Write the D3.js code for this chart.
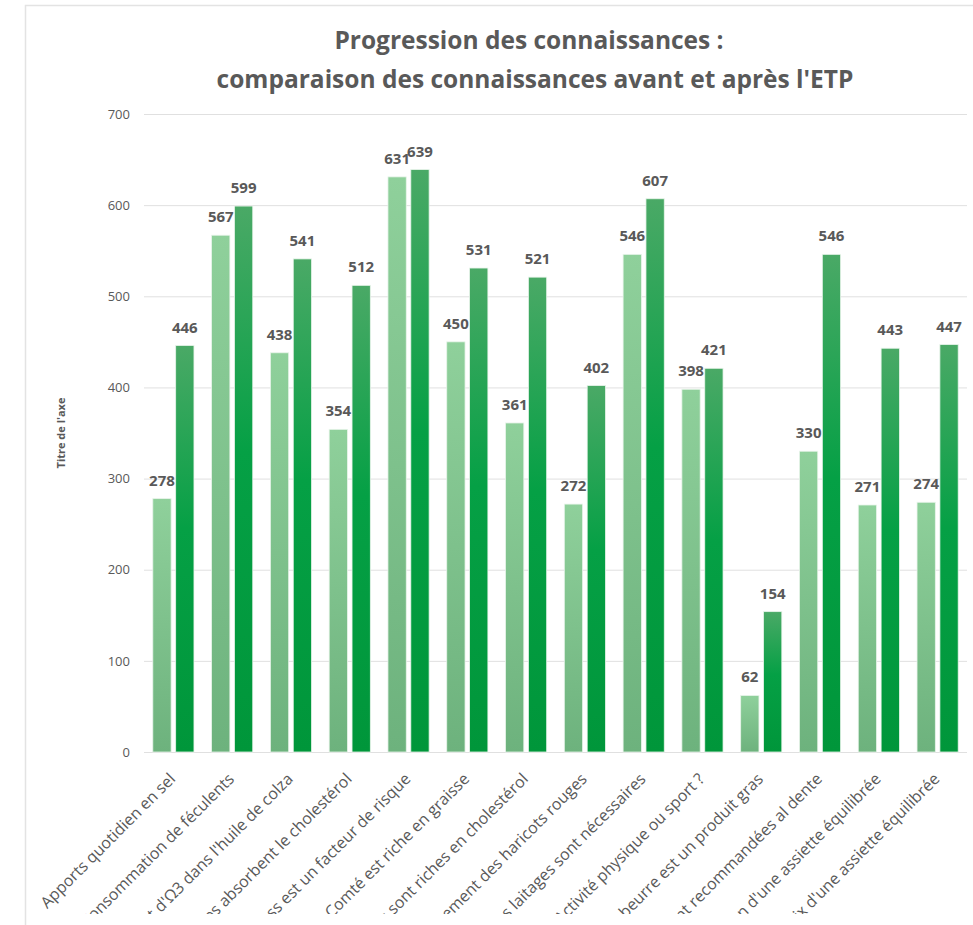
<!DOCTYPE html>
<html>
<head>
<meta charset="utf-8">
<script src="https://cdn.jsdelivr.net/npm/d3@7"></script>
<style>
  body { margin: 0; background: #fff; }
  text { font-family: "Open Sans", sans-serif; }
</style>
</head>
<body>
<script>
var categories = [
    "Apports quotidien en sel",
    "Consommation de féculents",
    "Apport d'Ω3 dans l'huile de colza",
    "Les fibres absorbent le cholestérol",
    "Le stress est un facteur de risque",
    "Le Comté est riche en graisse",
    "Les œufs sont riches en cholestérol",
    "Consommer régulièrement des haricots rouges",
    "Les laitages sont nécessaires",
    "Activité physique ou sport ?",
    "Le beurre est un produit gras",
    "Les pâtes sont recommandées al dente",
    "Composition d'une assiette équilibrée",
    "Choix d'une assiette équilibrée"
];
var avant = [278, 567, 438, 354, 631, 450, 361, 272, 546, 398, 62, 330, 271, 274];
var apres = [446, 599, 541, 512, 639, 531, 521, 402, 607, 421, 154, 546, 443, 447];
var yTicks = [0, 100, 200, 300, 400, 500, 600, 700];

var width = 973, height = 925;
var margin = {top: 114, right: 6, bottom: 173, left: 144};

var svg = d3.select("body").append("svg")
    .attr("width", width)
    .attr("height", height);

var defs = svg.append("defs");
var g1 = defs.append("linearGradient").attr("id", "gAvant")
    .attr("x1", 0).attr("y1", 0).attr("x2", 0).attr("y2", 1);
g1.append("stop").attr("offset", "0%").attr("stop-color", "#8fd09b");
g1.append("stop").attr("offset", "100%").attr("stop-color", "#6db27d");
var g2 = defs.append("linearGradient").attr("id", "gApres")
    .attr("x1", 0).attr("y1", 0).attr("x2", 0).attr("y2", 1);
g2.append("stop").attr("offset", "0%").attr("stop-color", "#4aa966");
g2.append("stop").attr("offset", "45%").attr("stop-color", "#05a045");
g2.append("stop").attr("offset", "100%").attr("stop-color", "#00963a");

// the screenshot cuts the chart area off near the bottom
defs.append("clipPath").attr("id", "cut")
    .append("rect")
    .attr("x", 0).attr("y", 0)
    .attr("width", width).attr("height", 914);

// chart area border
svg.append("rect")
    .attr("x", 25.5).attr("y", 5.5)
    .attr("width", 960).attr("height", 960)
    .attr("fill", "none")
    .attr("stroke", "#e3e3e3")
    .attr("stroke-width", 1.5);

var x0 = d3.scaleBand()
    .domain(categories)
    .range([margin.left, width - margin.right])
    .paddingInner(0.3)
    .paddingOuter(0.15);

var x1 = d3.scaleBand()
    .domain(["avant", "apres"])
    .range([0, x0.bandwidth()])
    .paddingInner(0.2);

var y = d3.scaleLinear()
    .domain([0, 700])
    .range([height - margin.bottom, margin.top]);

// gridlines
svg.append("g")
    .selectAll("line")
    .data(yTicks)
    .enter()
    .append("line")
    .attr("x1", margin.left)
    .attr("x2", width - margin.right)
    .attr("y1", function(d) { return y(d) + 0.5; })
    .attr("y2", function(d) { return y(d) + 0.5; })
    .attr("stroke", "#e0e0e0")
    .attr("stroke-width", 1);

// y axis labels
var yAxis = svg.append("g")
    .attr("transform", "translate(" + (margin.left - 14) + ",0)")
    .call(d3.axisLeft(y).tickValues(yTicks).tickSize(0).tickPadding(0));
yAxis.select(".domain").remove();
yAxis.selectAll("text")
    .attr("fill", "#595959")
    .style("font-size", "13px")
    .style("font-family", "Open Sans, sans-serif");

// y axis title
svg.append("text")
    .attr("transform", "translate(65," + ((margin.top + height - margin.bottom) / 2) + ") rotate(-90)")
    .attr("text-anchor", "middle")
    .attr("fill", "#595959")
    .style("font-size", "11px")
    .style("font-weight", "bold")
    .text("Titre de l'axe");

// bars
var rows = categories.map(function(c, i) {
    return {cat: c, vals: [{key: "avant", v: avant[i]}, {key: "apres", v: apres[i]}]};
});

var groups = svg.selectAll(".grp")
    .data(rows)
    .enter()
    .append("g")
    .attr("class", "grp")
    .attr("transform", function(d) { return "translate(" + x0(d.cat) + ",0)"; });

groups.selectAll("rect")
    .data(function(d) { return d.vals; })
    .enter()
    .append("rect")
    .attr("x", function(d) { return x1(d.key); })
    .attr("y", function(d) { return y(d.v); })
    .attr("width", x1.bandwidth())
    .attr("height", function(d) { return y(0) - y(d.v); })
    .attr("fill", function(d) { return d.key == "avant" ? "url(#gAvant)" : "url(#gApres)"; })
    .attr("stroke", "#e8f4ea")
    .attr("stroke-width", 0.8);

groups.selectAll(".lbl")
    .data(function(d) { return d.vals; })
    .enter()
    .append("text")
    .attr("class", "lbl")
    .attr("x", function(d) { return x1(d.key) + x1.bandwidth() / 2; })
    .attr("y", function(d) { return y(d.v) - 13; })
    .attr("text-anchor", "middle")
    .attr("fill", "#595959")
    .style("font-size", "15px")
    .style("font-weight", "bold")
    .text(function(d) { return d.v; });

// x labels
svg.append("g")
    .attr("clip-path", "url(#cut)")
    .selectAll("text")
    .data(categories)
    .enter()
    .append("text")
    .attr("transform", function(d) {
        return "translate(" + (x0(d) + x0.bandwidth() / 2 + 3) + "," + (height - margin.bottom + 28) + ") rotate(-45)";
    })
    .attr("text-anchor", "end")
    .attr("fill", "#595959")
    .style("font-size", "16px")
    .text(function(d) { return d; });

// title
var title = svg.append("text")
    .attr("text-anchor", "middle")
    .attr("fill", "#595959")
    .style("font-size", "24.5px")
    .style("font-weight", "bold");
title.append("tspan").attr("x", 529).attr("y", 49).text("Progression des connaissances :");
title.append("tspan").attr("x", 535).attr("y", 88).text("comparaison des connaissances avant et après l'ETP");
</script>
</body>
</html>
